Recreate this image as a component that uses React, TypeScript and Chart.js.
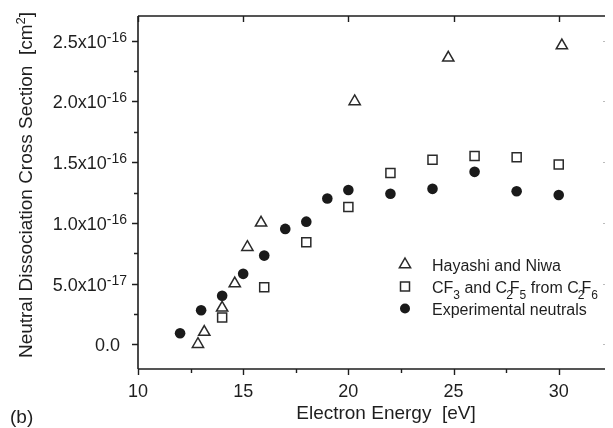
import React, { useEffect, useRef } from "react";
import { Chart, registerables } from "chart.js";

Chart.register(...registerables);

// ---- data ----
const expEnergy = [12, 13, 14, 15, 16, 17, 18, 19, 20, 22, 24, 26, 28, 30];
const expNeutrals = [0.9e-17, 2.8e-17, 4.0e-17, 5.8e-17, 7.3e-17, 9.5e-17, 1.01e-16, 1.2e-16, 1.27e-16, 1.24e-16, 1.28e-16, 1.42e-16, 1.26e-16, 1.23e-16];

const cfEnergy = [14, 16, 18, 20, 22, 24, 26, 28, 30];
const cfValues = [2.2e-17, 4.7e-17, 8.4e-17, 1.13e-16, 1.41e-16, 1.52e-16, 1.55e-16, 1.54e-16, 1.48e-16];

const hnEnergy = [12.85, 13.15, 14, 14.6, 15.2, 15.85, 20.3, 24.75, 30.15];
const hnValues = [0, 1.0e-17, 3.0e-17, 5.0e-17, 8.0e-17, 1.0e-16, 2.0e-16, 2.36e-16, 2.46e-16];

const xMajorTicks = [10, 15, 20, 25, 30];
const xMinorTicks = [12.5, 17.5, 22.5, 27.5];
const xTickLabels = ["10", "15", "20", "25", "30"];

const yMajorTicks = [0, 5e-17, 1e-16, 1.5e-16, 2e-16, 2.5e-16];
const yMinorTicks = [2.5e-17, 7.5e-17, 1.25e-16, 1.75e-16, 2.25e-16];
const yTickMantissa = ["0.0", "5.0x10", "1.0x10", "1.5x10", "2.0x10", "2.5x10"];
const yTickExponent = ["", "-17", "-16", "-16", "-16", "-16"];

const xTitle = "Electron Energy  [eV]";
const yTitle = "Neutral Dissociation Cross Section  [cm";
const panelLabel = "(b)";

const FONT = '"Liberation Sans", Arial, Helvetica, sans-serif';
const INK = "#1e1e1e";

function toPts(xs: number[], ys: number[]) {
  return xs.map((x, i) => ({ x, y: ys[i] }));
}

function drawMarker(ctx: CanvasRenderingContext2D, kind: string, x: number, y: number) {
  ctx.save();
  ctx.lineWidth = 1.5;
  ctx.strokeStyle = "#2a2a2a";
  if (kind === "circle") {
    ctx.fillStyle = "#1a1a1a";
    ctx.beginPath();
    ctx.arc(x, y, 5, 0, Math.PI * 2);
    ctx.fill();
  } else if (kind === "rect") {
    ctx.fillStyle = "#fff";
    ctx.beginPath();
    ctx.rect(x - 4.5, y - 4.5, 9, 9);
    ctx.fill();
    ctx.stroke();
  } else {
    const r = 6.5;
    ctx.fillStyle = "#fff";
    ctx.beginPath();
    ctx.moveTo(x, y - r);
    ctx.lineTo(x + r * 0.866, y + r * 0.5);
    ctx.lineTo(x - r * 0.866, y + r * 0.5);
    ctx.closePath();
    ctx.fill();
    ctx.stroke();
  }
  ctx.restore();
}

const axesPlugin = {
  id: "customAxes",
  beforeDatasetsDraw(chart: any) {
    const { ctx, chartArea } = chart;
    const xs = chart.scales.x;
    const ys = chart.scales.y;
    const { left, right, top, bottom } = chartArea;
    ctx.save();
    ctx.strokeStyle = INK;
    ctx.lineWidth = 1.6;
    ctx.beginPath();
    ctx.moveTo(left, top);
    ctx.lineTo(left, bottom);
    ctx.moveTo(left, bottom);
    ctx.lineTo(right, bottom);
    ctx.moveTo(left, top);
    ctx.lineTo(right, top);
    ctx.stroke();

    ctx.lineWidth = 1.4;
    ctx.beginPath();
    xMajorTicks.forEach((v) => {
      const px = Math.round(xs.getPixelForValue(v)) + 0.5;
      ctx.moveTo(px, bottom);
      ctx.lineTo(px, bottom + 6);
      ctx.moveTo(px, top);
      ctx.lineTo(px, top + 6);
    });
    xMinorTicks.forEach((v) => {
      const px = Math.round(xs.getPixelForValue(v)) + 0.5;
      ctx.moveTo(px, bottom);
      ctx.lineTo(px, bottom + 4);
    });
    yMajorTicks.forEach((v) => {
      const py = Math.round(ys.getPixelForValue(v)) + 0.5;
      ctx.moveTo(left, py);
      ctx.lineTo(left - 6, py);
    });
    yMinorTicks.forEach((v) => {
      const py = Math.round(ys.getPixelForValue(v)) + 0.5;
      ctx.moveTo(left, py);
      ctx.lineTo(left - 4, py);
    });
    ctx.stroke();

    ctx.strokeStyle = "#bbbbbb";
    ctx.lineWidth = 1;
    ctx.beginPath();
    yMajorTicks.forEach((v) => {
      const py = Math.round(ys.getPixelForValue(v)) + 0.5;
      ctx.moveTo(right - 2, py);
      ctx.lineTo(right, py);
    });
    ctx.stroke();
    ctx.restore();
  },
  afterDraw(chart: any) {
    const { ctx, chartArea } = chart;
    const xs = chart.scales.x;
    const ys = chart.scales.y;
    const { left, bottom } = chartArea;
    ctx.save();
    ctx.fillStyle = INK;

    ctx.font = `18px ${FONT}`;
    ctx.textAlign = "center";
    ctx.textBaseline = "alphabetic";
    xMajorTicks.forEach((v, i) => {
      ctx.fillText(xTickLabels[i], xs.getPixelForValue(v), bottom + 28);
    });

    const labelRight = left - 11;
    yMajorTicks.forEach((v, i) => {
      const py = ys.getPixelForValue(v);
      ctx.font = `14px ${FONT}`;
      const hasExp = !!yTickExponent[i];
      const expW = hasExp ? ctx.measureText(yTickExponent[i]).width : 7;
      ctx.font = `18px ${FONT}`;
      const manW = ctx.measureText(yTickMantissa[i]).width;
      ctx.textAlign = "left";
      ctx.fillText(yTickMantissa[i], labelRight - expW - manW, py + 7);
      if (hasExp) {
        ctx.font = `14px ${FONT}`;
        ctx.fillText(yTickExponent[i], labelRight - expW, py + 1);
      }
    });

    ctx.font = `19px ${FONT}`;
    ctx.textAlign = "center";
    ctx.fillText(xTitle, 378, 411);

    ctx.textAlign = "left";
    ctx.fillText(panelLabel, 2, 415);

    ctx.save();
    ctx.translate(24, 177);
    ctx.rotate(-Math.PI / 2);
    ctx.font = `19px ${FONT}`;
    const mainW = ctx.measureText(yTitle).width;
    ctx.font = `13px ${FONT}`;
    const supW = ctx.measureText("2").width;
    ctx.font = `19px ${FONT}`;
    const closeW = ctx.measureText("]").width;
    const total = mainW + supW + closeW;
    let cx = -total / 2;
    ctx.textAlign = "left";
    ctx.fillText(yTitle, cx, 0);
    cx += mainW;
    ctx.font = `13px ${FONT}`;
    ctx.fillText("2", cx, -7);
    cx += supW;
    ctx.font = `19px ${FONT}`;
    ctx.fillText("]", cx, 0);
    ctx.restore();

    const mx = 397;
    const tx = 424;
    const rows = [262.5, 284.5, 306.5];
    drawMarker(ctx, "triangle", mx, rows[0] - 6);
    drawMarker(ctx, "rect", mx, rows[1] - 6);
    drawMarker(ctx, "circle", mx, rows[2] - 6);
    ctx.fillStyle = INK;
    ctx.textAlign = "left";
    ctx.font = `16px ${FONT}`;
    ctx.fillText("Hayashi and Niwa", tx, rows[0]);
    ctx.fillText("Experimental neutrals", tx, rows[2]);
    const parts: [string, boolean, number][] = [
      ["CF", false, 0], ["3", true, 0], [" and C", false, -1], ["2", true, -3], ["F", false, 0], ["5", true, 0], [" from C", false, -1], ["2", true, -3], ["F", false, 0], ["6", true, 0],
    ];
    let lx = tx;
    parts.forEach(([t, sub, kern]) => {
      ctx.font = sub ? `12px ${FONT}` : `16px ${FONT}`;
      ctx.fillText(t, lx, sub ? rows[1] + 6 : rows[1]);
      lx += ctx.measureText(t).width + kern;
    });
    ctx.restore();
  },
};

export default function App() {
  const ref = useRef<HTMLCanvasElement | null>(null);
  useEffect(() => {
    if (!ref.current) return;
    const chart = new Chart(ref.current, {
      type: "scatter",
      data: {
        datasets: [
          {
            label: "Hayashi and Niwa",
            data: toPts(hnEnergy, hnValues),
            pointStyle: "triangle",
            pointRadius: 6.5,
            backgroundColor: "#ffffff",
            borderColor: "#2a2a2a",
            borderWidth: 1.5,
          },
          {
            label: "CF3 and C2F5 from C2F6",
            data: toPts(cfEnergy, cfValues),
            pointStyle: "rect",
            pointRadius: 6.4,
            backgroundColor: "#ffffff",
            borderColor: "#2a2a2a",
            borderWidth: 1.5,
          },
          {
            label: "Experimental neutrals",
            data: toPts(expEnergy, expNeutrals),
            pointStyle: "circle",
            pointRadius: 5.3,
            backgroundColor: "#1a1a1a",
            borderColor: "#1a1a1a",
            borderWidth: 0,
          },
        ],
      },
      options: {
        responsive: false,
        animation: false,
        devicePixelRatio: 1,
        events: [],
        layout: { padding: { left: 130, right: 0, top: 5, bottom: 59 } },
        plugins: { legend: { display: false }, tooltip: { enabled: false } },
        scales: {
          x: { type: "linear", min: 10, max: 32.2, display: false },
          y: { type: "linear", min: -2.04e-17, max: 2.704e-16, display: false },
        },
      },
      plugins: [axesPlugin],
    });
    return () => chart.destroy();
  }, []);
  return (
    <div>
      <canvas ref={ref} width={605} height={420} style={{ display: "block" }} />
    </div>
  );
}
